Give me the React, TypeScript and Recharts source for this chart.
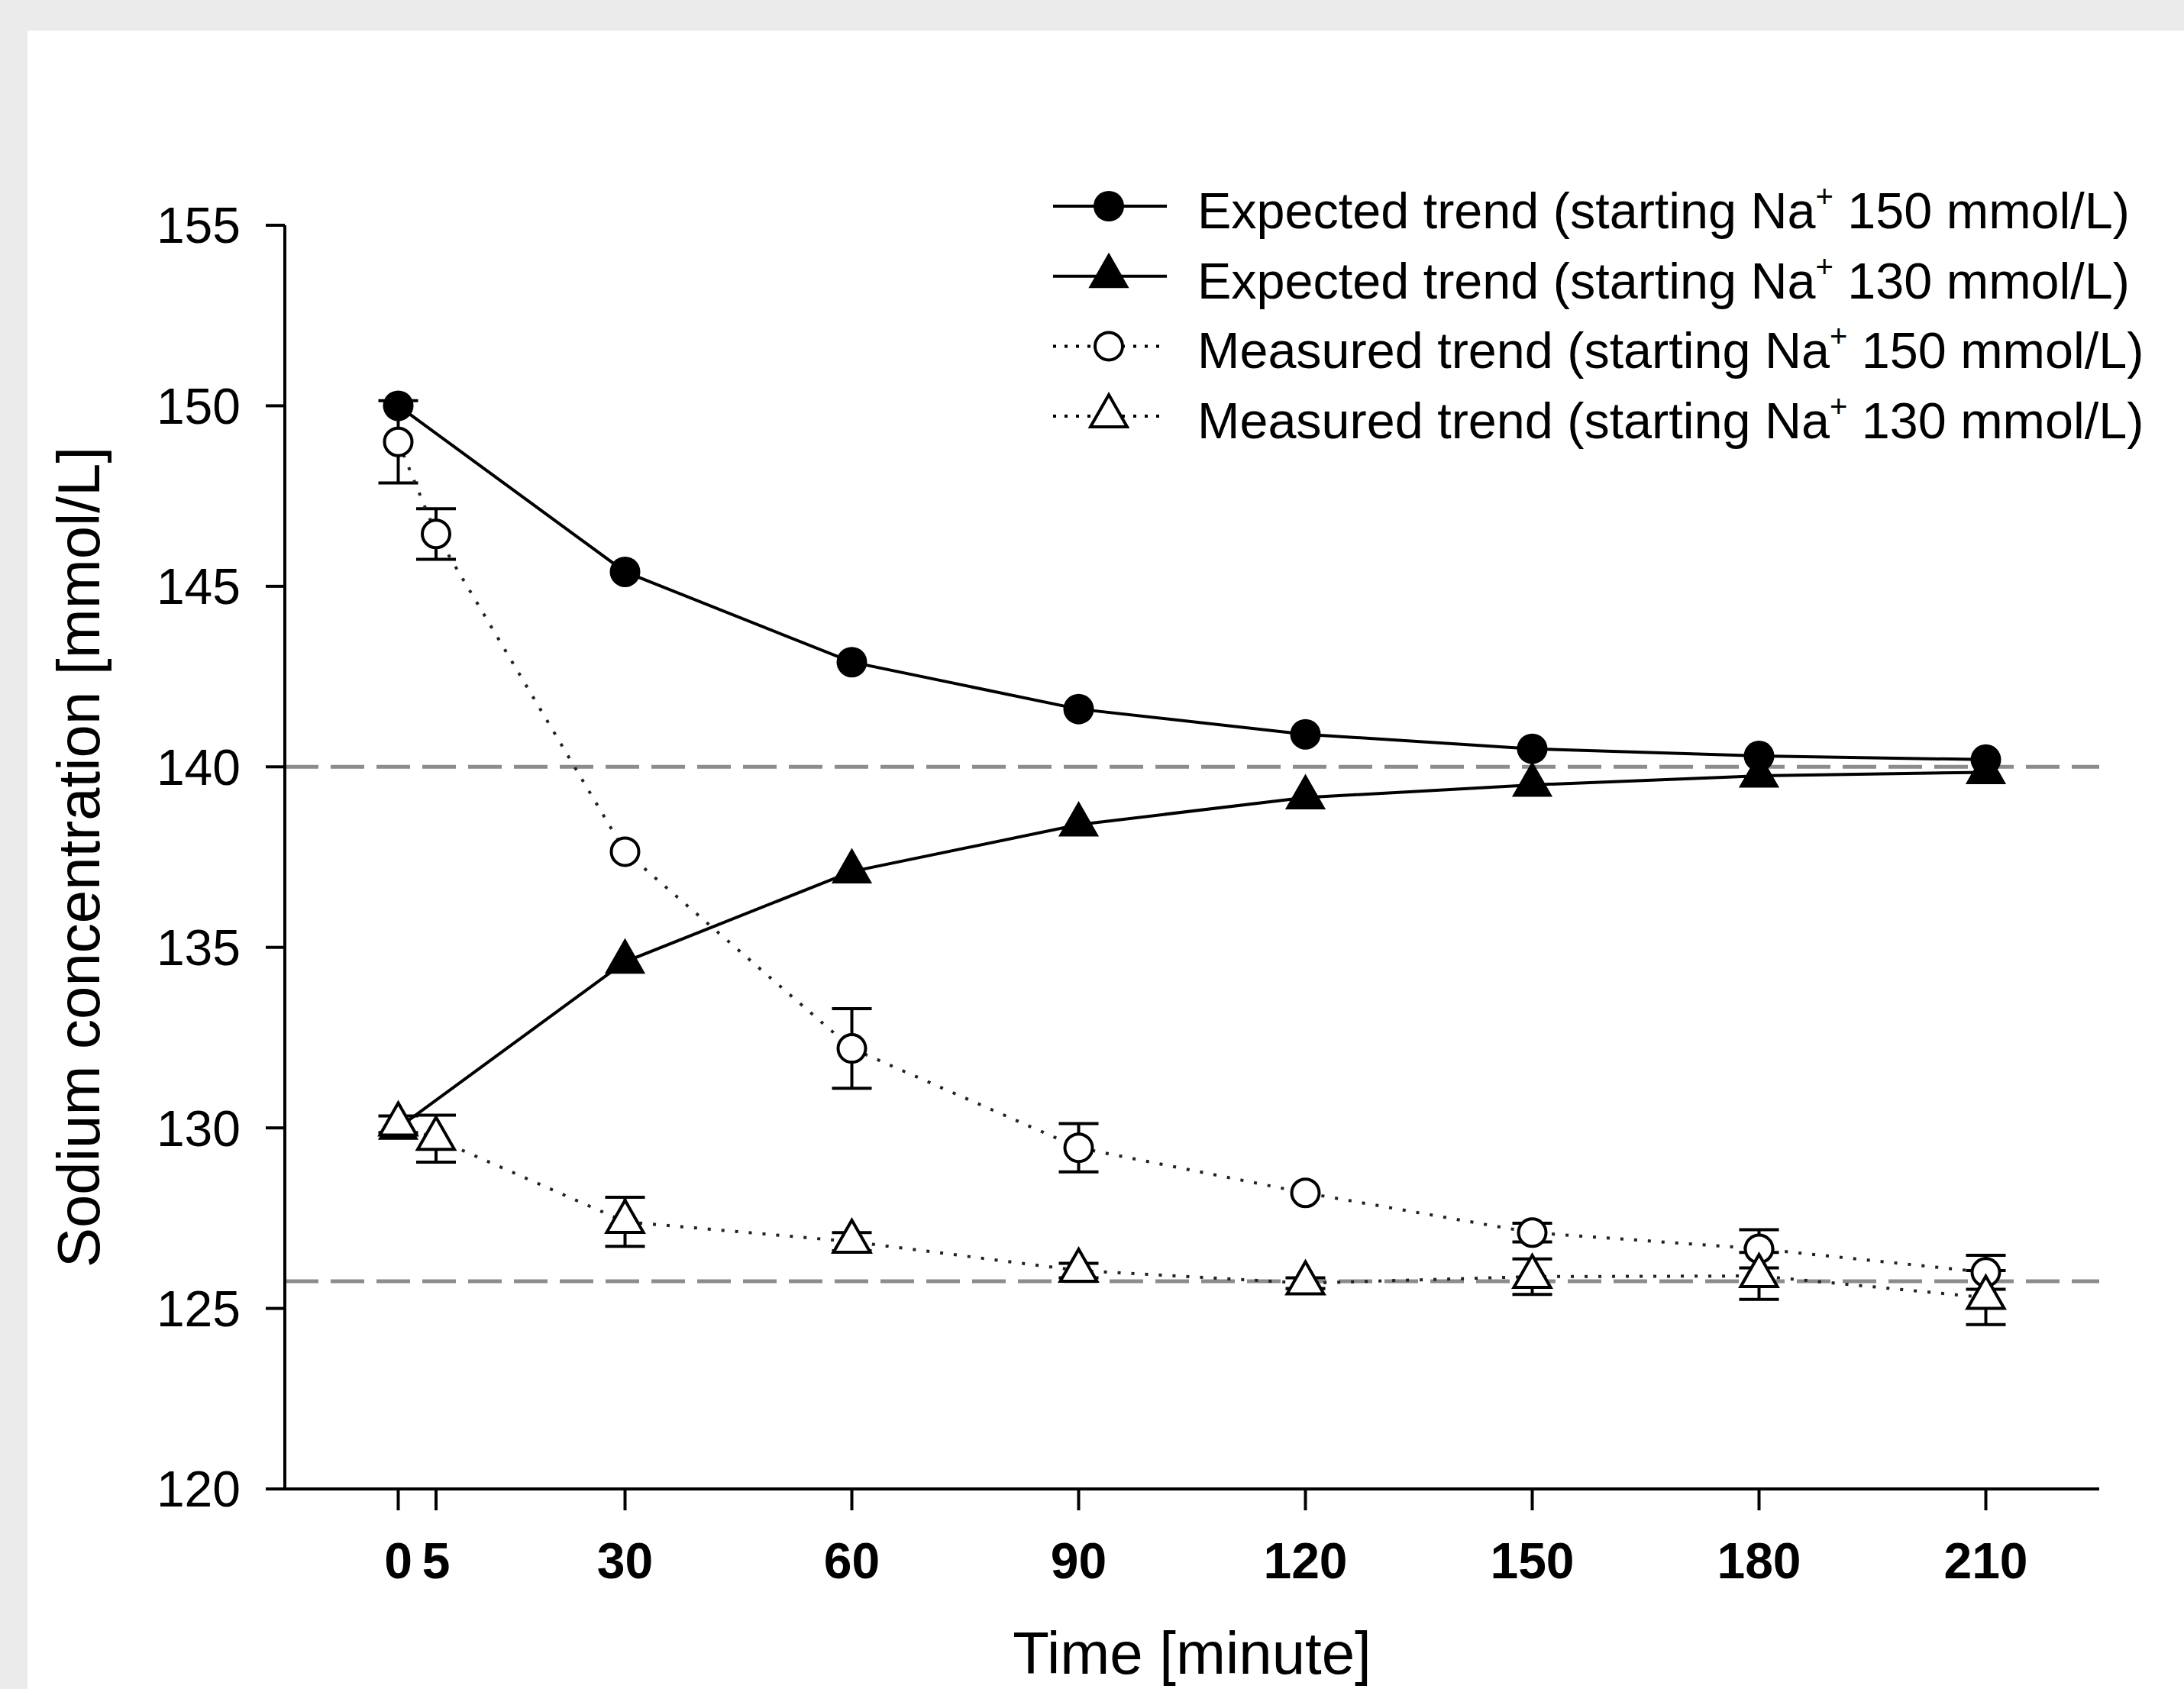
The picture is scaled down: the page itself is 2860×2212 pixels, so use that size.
import {
  LineChart,
  Line,
  XAxis,
  YAxis,
  ReferenceLine,
  ErrorBar,
  Label,
} from "recharts";

const FONT = '"Liberation Sans", Arial, Helvetica, sans-serif';

// expected (model) trends
const expectedTimes = [0, 30, 60, 90, 120, 150, 180, 210];
const expected150 = [150, 145.4, 142.9, 141.6, 140.9, 140.5, 140.3, 140.2];
const expected130 = [130, 134.6, 137.1, 138.4, 139.15, 139.5, 139.75, 139.85];

// measured trends (mean and error, null = no visible bar)
const measuredTimes = [0, 5, 30, 60, 90, 120, 150, 180, 210];
const measured150 = [149.0, 146.45, 137.65, 132.2, 129.45, 128.2, 127.1, 126.65, 126.0];
const measured150Err = [1.14, 0.7, null, 1.1, 0.67, null, 0.26, 0.53, 0.47];
const measured130 = [130.1, 129.7, 127.4, 126.85, 126.05, 125.7, 125.88, 125.9, 125.3];
const measured130Err = [0.23, 0.65, 0.68, 0.25, 0.2, 0.15, 0.49, 0.65, 0.75];

const xTicks = [0, 5, 30, 60, 90, 120, 150, 180, 210];
const yTicks = [120, 125, 130, 135, 140, 145, 150, 155];
const refLevels = [140, 125.75];

const legendLabels = [
  "Expected trend (starting Na",
  "Expected trend (starting Na",
  "Measured trend (starting Na",
  "Measured trend (starting Na",
];
const legendConc = [" 150 mmol/L)", " 130 mmol/L)", " 150 mmol/L)", " 130 mmol/L)"];

const exp150Data = expectedTimes.map((t, i) => ({ t, v: expected150[i] }));
const exp130Data = expectedTimes.map((t, i) => ({ t, v: expected130[i] }));
const meas150Data = measuredTimes.map((t, i) => ({ t, v: measured150[i], e: measured150Err[i] }));
const meas130Data = measuredTimes.map((t, i) => ({ t, v: measured130[i], e: measured130Err[i] }));

const triPoints = (cx: number, cy: number) =>
  `${cx},${cy - 28} ${cx + 24},${cy + 14} ${cx - 24},${cy + 14}`;

const filledCircle = (p: any) => (
  <circle key={`fc-${p.index}`} cx={p.cx} cy={p.cy} r={20} fill="#000" />
);
const openCircle = (p: any) => (
  <circle key={`oc-${p.index}`} cx={p.cx} cy={p.cy} r={18} fill="#fff" stroke="#000" strokeWidth={4} />
);
const filledTriangle = (p: any) => (
  <polygon key={`ft-${p.index}`} points={triPoints(p.cx, p.cy)} fill="#000" stroke="#000" strokeWidth={3} />
);
const openTriangle = (p: any) => (
  <polygon key={`ot-${p.index}`} points={triPoints(p.cx, p.cy)} fill="#fff" stroke="#000" strokeWidth={4} />
);

const legendMarkers = [filledCircle, filledTriangle, openCircle, openTriangle];
const legendDash = [undefined, undefined, "4 11", "4 11"];

const YTitle = ({ viewBox }: any) => {
  const x = 130;
  const cy = viewBox.y + viewBox.height / 2;
  return (
    <text
      x={x}
      y={cy}
      transform={`rotate(-90 ${x} ${cy})`}
      textAnchor="middle"
      fontSize={78}
      fontFamily={FONT}
      fill="#000"
    >
      Sodium concentration [mmol/L]
    </text>
  );
};

const LegendOverlay = () => (
  <svg
    width={2860}
    height={700}
    style={{ position: "absolute", left: 0, top: 0, pointerEvents: "none" }}
  >
    {legendLabels.map((lab, i) => {
      const cy = 270 + i * 91.7;
      return (
        <g key={i}>
          <line
            x1={1379}
            x2={1528}
            y1={cy}
            y2={cy}
            stroke="#000"
            strokeWidth={4}
            strokeDasharray={legendDash[i]}
          />
          {legendMarkers[i]({ cx: 1452, cy, index: 100 + i })}
          <text
            x={1568}
            y={cy + 29}
            fontSize={66.5}
            fontFamily={FONT}
            fill="#000"
            style={{ whiteSpace: "pre" }}
          >
            {lab}
            <tspan fontSize={40} dy={-28}>+</tspan>
            <tspan dy={28}>{legendConc[i]}</tspan>
          </text>
        </g>
      );
    })}
  </svg>
);

const App = () => {
  return (
    <div
      style={{
        position: "absolute",
        left: 0,
        top: 0,
        width: 2860,
        height: 2212,
        background: "#ebebeb",
        overflow: "hidden",
      }}
    >
      <div
        style={{
          position: "absolute",
          left: 36,
          top: 40,
          right: 0,
          bottom: 0,
          background: "#fff",
        }}
      />
      <div style={{ position: "absolute", left: 0, top: 0 }}>
        <LineChart
          width={2860}
          height={2212}
          margin={{ top: 295, right: 111, bottom: 0, left: 273 }}
        >
          <XAxis
            type="number"
            dataKey="t"
            domain={[-15, 225]}
            ticks={xTicks}
            interval={0}
            allowDataOverflow
            height={262}
            tickSize={28}
            tickMargin={42}
            axisLine={{ stroke: "#000", strokeWidth: 4 }}
            tickLine={{ stroke: "#000", strokeWidth: 4 }}
            tick={{ fontSize: 66, fontWeight: "bold", fill: "#000", fontFamily: FONT }}
          >
            <Label
              value="Time [minute]"
              position="insideBottom"
              offset={20}
              fontSize={78}
              fill="#000"
              fontFamily={FONT}
            />
          </XAxis>
          <YAxis
            type="number"
            domain={[120, 155]}
            ticks={yTicks}
            interval={0}
            allowDataOverflow
            width={100}
            tickSize={25}
            tickMargin={33}
            axisLine={{ stroke: "#000", strokeWidth: 4 }}
            tickLine={{ stroke: "#000", strokeWidth: 4 }}
            tick={{ fontSize: 66, fill: "#000", fontFamily: FONT }}
          >
            <Label content={YTitle} />
          </YAxis>

          {refLevels.map((lvl) => (
            <ReferenceLine
              key={lvl}
              y={lvl}
              stroke="#8c8c8c"
              strokeWidth={5}
              strokeDasharray="44 16"
            />
          ))}

          <Line
            data={exp150Data}
            dataKey="v"
            type="linear"
            stroke="#000"
            strokeWidth={4}
            dot={filledCircle}
            activeDot={false}
            isAnimationActive={false}
          />
          <Line
            data={exp130Data}
            dataKey="v"
            type="linear"
            stroke="#000"
            strokeWidth={4}
            dot={filledTriangle}
            activeDot={false}
            isAnimationActive={false}
          />

          {/* error bars first so the open markers sit on top of them */}
          <Line
            data={meas150Data}
            dataKey="v"
            stroke="none"
            dot={false}
            activeDot={false}
            isAnimationActive={false}
          >
            <ErrorBar dataKey="e" direction="y" width={26} stroke="#000" strokeWidth={4} />
          </Line>
          <Line
            data={meas150Data}
            dataKey="v"
            type="linear"
            stroke="#222"
            strokeWidth={4}
            strokeDasharray="4 14"
            dot={openCircle}
            activeDot={false}
            isAnimationActive={false}
          />
          <Line
            data={meas130Data}
            dataKey="v"
            stroke="none"
            dot={false}
            activeDot={false}
            isAnimationActive={false}
          >
            <ErrorBar dataKey="e" direction="y" width={26} stroke="#000" strokeWidth={4} />
          </Line>
          <Line
            data={meas130Data}
            dataKey="v"
            type="linear"
            stroke="#222"
            strokeWidth={4}
            strokeDasharray="4 14"
            dot={openTriangle}
            activeDot={false}
            isAnimationActive={false}
          />
        </LineChart>
      </div>
      <LegendOverlay />
    </div>
  );
};

export default App;
